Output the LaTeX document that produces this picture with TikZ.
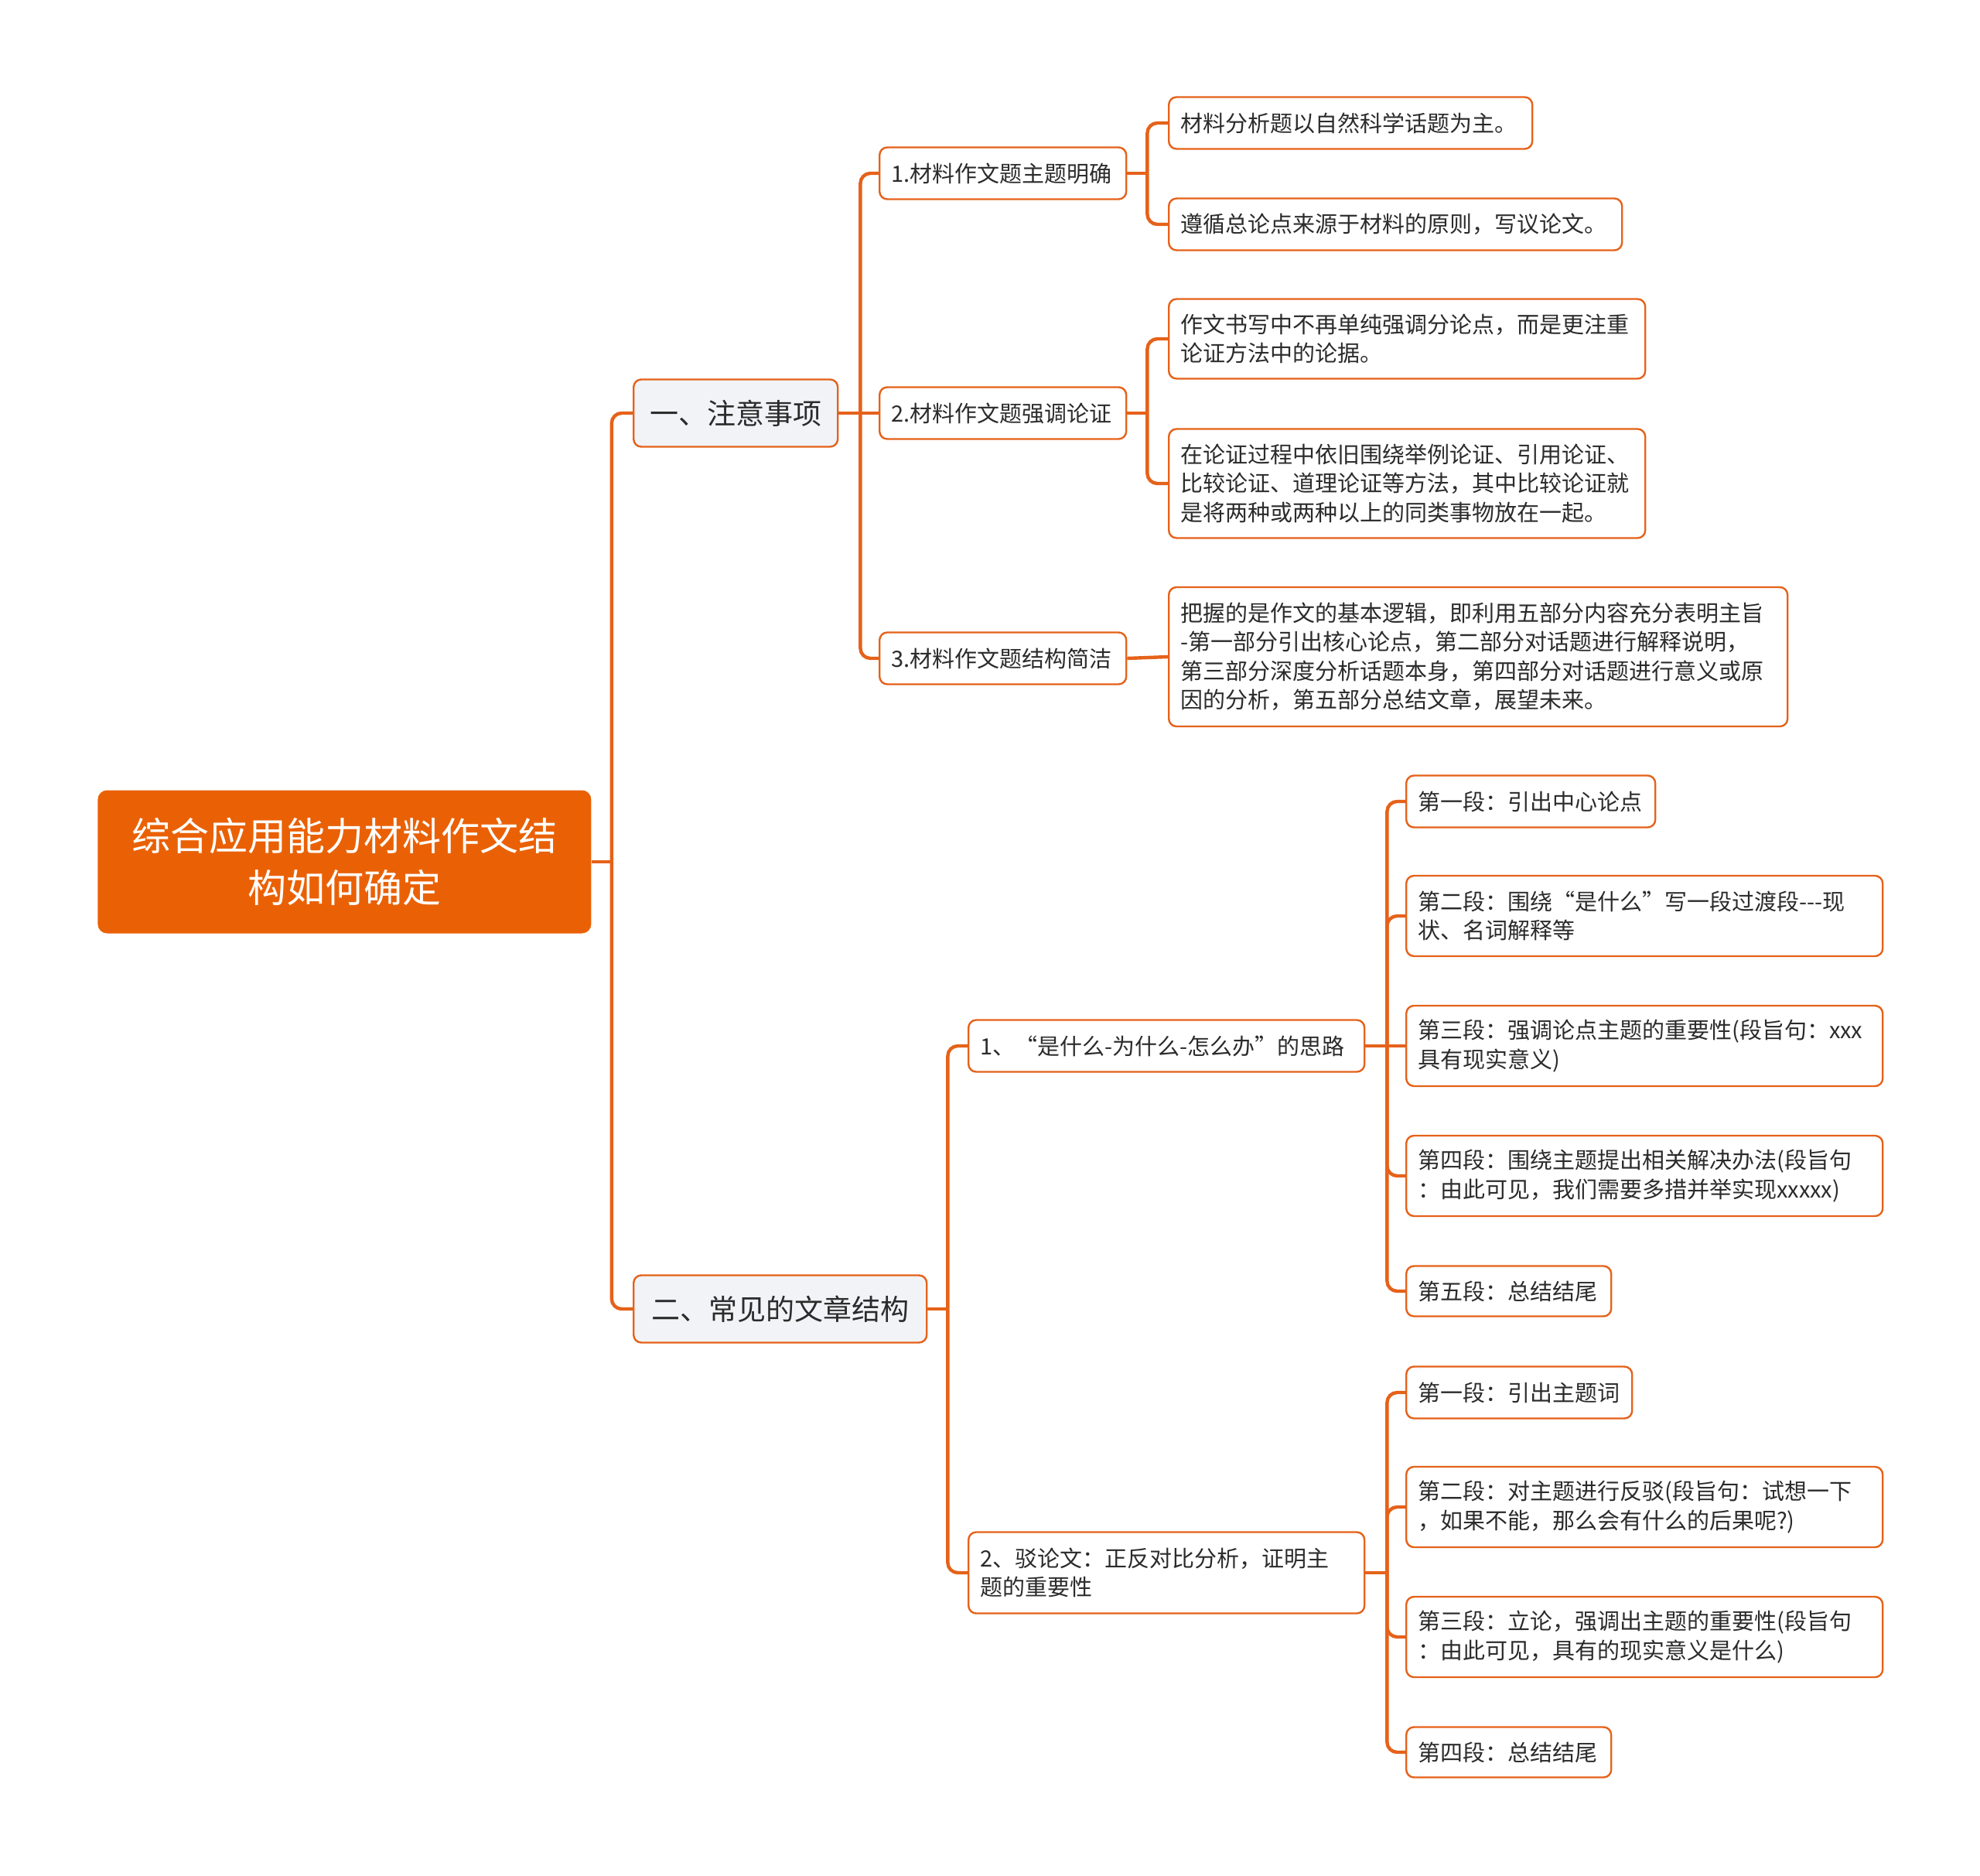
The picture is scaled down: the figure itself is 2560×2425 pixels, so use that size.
\documentclass[tikz,border=0pt]{standalone}
\usepackage{fontspec}
\setmainfont{Noto Sans CJK SC}
\definecolor{lineor}{HTML}{E5621A}
\definecolor{rootor}{HTML}{EA6105}
\definecolor{lvonefill}{HTML}{F1F3F6}
\definecolor{textc}{HTML}{2B2B2B}
\tikzset{
  basebox/.style={draw=lineor, line width=1.2pt, rounded corners=5pt, anchor=west, inner ysep=0pt, text=textc},
  lvthree/.style={basebox, fill=white, align=left, inner xsep=7.5pt, font=\fontsize{14.5pt}{18.75pt}\selectfont},
  lvone/.style={basebox, fill=lvonefill, align=center, inner xsep=0pt, minimum height=43.5pt, font=\fontsize{18.5pt}{23pt}\selectfont},
  rootbox/.style={fill=rootor, draw=none, rounded corners=6pt, anchor=west, align=center, text=white, minimum width=319pt, minimum height=92.5pt, font=\fontsize{25pt}{33.5pt}\selectfont},
  conn/.style={draw=lineor, line width=2.2pt, rounded corners=6.5pt},
}
\begin{document}
\begin{tikzpicture}[x=0.5pt,y=-0.5pt]
\useasboundingbox (0,0) rectangle (2560,2425);
\fill[white] (0,0) rectangle (2560,2425);

% root
\node[rootbox] (root) at (126,1114) {综合应用能力材料作文结\\构如何确定};

% level 1
\node[lvone, minimum width=132pt] (s1) at (818,534) {一、注意事项};
\node[lvone, minimum width=189.5pt] (s2) at (818,1692) {二、常见的文章结构};

% level 2 under s1
\node[lvthree, text width=144.5pt, minimum height=33.5pt] (p1) at (1136,224) {1.材料作文题主题明确};
\node[lvthree, text width=144.5pt, minimum height=33.5pt] (p2) at (1136,534) {2.材料作文题强调论证};
\node[lvthree, text width=144.5pt, minimum height=33.5pt] (p3) at (1136,851) {3.材料作文题结构简洁};

% level 3 under p1..p3
\node[lvthree, text width=220pt, minimum height=33.5pt] (a1) at (1510,159) {材料分析题以自然科学话题为主。};
\node[lvthree, text width=278pt, minimum height=33.5pt] (a2) at (1510,290) {遵循总论点来源于材料的原则，写议论文。};
\node[lvthree, text width=293pt, minimum height=51.5pt] (b1) at (1510,438) {作文书写中不再单纯强调分论点，而是更注重\\论证方法中的论据。};
\node[lvthree, text width=293pt, minimum height=70.5pt] (b2) at (1510,625) {在论证过程中依旧围绕举例论证、引用论证、\\比较论证、道理论证等方法，其中比较论证就\\是将两种或两种以上的同类事物放在一起。};
\node[lvthree, text width=385pt, minimum height=90pt] (c1) at (1510,849) {把握的是作文的基本逻辑，即利用五部分内容充分表明主旨\\-第一部分引出核心论点，第二部分对话题进行解释说明，\\第三部分深度分析话题本身，第四部分对话题进行意义或原\\因的分析，第五部分总结文章，展望未来。};

% level 2 under s2
\node[lvthree, text width=241pt, minimum height=33.5pt] (q1) at (1251,1352) {1、“是什么-为什么-怎么办”的思路};
\node[lvthree, text width=241pt, minimum height=52.5pt] (q2) at (1251,2033) {2、驳论文：正反对比分析，证明主\\题的重要性};

% level 3 under q1
\node[lvthree, text width=146pt, minimum height=33.5pt] (d1) at (1817,1036) {第一段：引出中心论点};
\node[lvthree, text width=293pt, minimum height=52pt] (d2) at (1817,1184) {第二段：围绕“是什么”写一段过渡段-\kern0pt-\kern0pt-现\\状、名词解释等};
\node[lvthree, text width=293pt, minimum height=52pt] (d3) at (1817,1352) {第三段：强调论点主题的重要性(段旨句：xxx\\具有现实意义)};
\node[lvthree, text width=293pt, minimum height=52pt] (d4) at (1817,1520) {第四段：围绕主题提出相关解决办法(段旨句\\：由此可见，我们需要多措并举实现xxxxx)};
\node[lvthree, text width=117.5pt, minimum height=32.5pt] (d5) at (1817,1669) {第五段：总结结尾};

% level 3 under q2
\node[lvthree, text width=131pt, minimum height=33.5pt] (e1) at (1817,1800) {第一段：引出主题词};
\node[lvthree, text width=293pt, minimum height=52pt] (e2) at (1817,1948) {第二段：对主题进行反驳(段旨句：试想一下\\，如果不能，那么会有什么的后果呢?)};
\node[lvthree, text width=293pt, minimum height=52pt] (e3) at (1817,2116) {第三段：立论，强调出主题的重要性(段旨句\\：由此可见，具有的现实意义是什么)};
\node[lvthree, text width=117.5pt, minimum height=32.5pt] (e4) at (1817,2265) {第四段：总结结尾};

% connectors
\draw[conn] (root.east) -- ++(26,0) coordinate (j0);
\foreach \c in {s1,s2} \draw[conn] (j0) |- (\c.west);

\draw[conn] (s1.east) -- ++(28,0) coordinate (j1);
\foreach \c in {p1,p3} \draw[conn] (j1) |- (\c.west);
\draw[conn] (j1) -- (p2.west);

\draw[conn] (p1.east) -- ++(26,0) coordinate (j11);
\foreach \c in {a1,a2} \draw[conn] (j11) |- (\c.west);
\draw[conn] (p2.east) -- ++(26,0) coordinate (j12);
\foreach \c in {b1,b2} \draw[conn] (j12) |- (\c.west);
\draw[conn] (p3.east) -- (c1.west);

\draw[conn] (s2.east) -- ++(26,0) coordinate (j2);
\foreach \c in {q1,q2} \draw[conn] (j2) |- (\c.west);

\draw[conn] (q1.east) -- ++(28,0) coordinate (j21);
\foreach \c in {d1,d2,d4,d5} \draw[conn] (j21) |- (\c.west);
\draw[conn] (j21) -- (d3.west);

\draw[conn] (q2.east) -- ++(28,0) coordinate (j22);
\foreach \c in {e1,e2,e3,e4} \draw[conn] (j22) |- (\c.west);
\end{tikzpicture}
\end{document}
